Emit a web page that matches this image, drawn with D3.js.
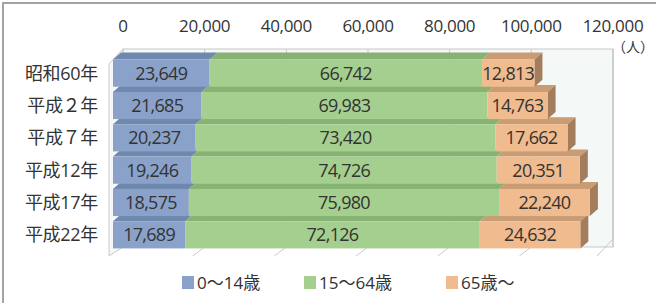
<!DOCTYPE html>
<html>
<head>
<meta charset="utf-8">
<script src="https://cdn.jsdelivr.net/npm/d3@7"></script>
<style>
  body { margin: 0; background: #fff; }
  text { font-family: "Open Sans", "Noto Sans CJK JP", sans-serif; fill: #333; }
</style>
</head>
<body>
<div id="chart"></div>
<script>
const years = ["昭和60年", "平成２年", "平成７年", "平成12年", "平成17年", "平成22年"];
const age0to14 = [23649, 21685, 20237, 19246, 18575, 17689];
const age15to64 = [66742, 69983, 73420, 74726, 75980, 72126];
const age65plus = [12813, 14763, 17662, 20351, 22240, 24632];
const seriesNames = ["0～14歳", "15～64歳", "65歳～"];
const ticks = [0, 20000, 40000, 60000, 80000, 100000, 120000];

const width = 656, height = 303;
const colors = ["#8aa2ca", "#a5cf8f", "#f0bb8e"];
const topColors = ["#6f88ae", "#86b274", "#c99c74"];
const sideColors = ["#5d7396", "#6f9960", "#a47d5c"];
const depth = {dx: 8, dy: -7};

const svg = d3.select("#chart").append("svg")
    .attr("width", width)
    .attr("height", height);

// picture frame
svg.append("rect")
    .attr("x", 3).attr("y", 3)
    .attr("width", width + 10).attr("height", height + 10)
    .attr("fill", "none").attr("stroke", "#a3a3a3").attr("stroke-width", 2);

const x = d3.scaleLinear().domain([0, 120000]).range([113, 603]);
const y = d3.scaleBand().domain(years).range([57, 251]).paddingInner(0.16).paddingOuter(0.08);

const wallTop = 49, wallBottom = 247, floorFront = 256;
const bx = v => x(v) + 10;

// back wall
svg.append("rect")
    .attr("x", bx(0)).attr("y", wallTop)
    .attr("width", bx(120000) - bx(0)).attr("height", wallBottom - wallTop)
    .attr("fill", "#f4f8f6").attr("stroke", "#c8c8c8");

// left wall outline
svg.append("path")
    .attr("d", `M${bx(0)},${wallTop} L${x(0) - 4},${wallTop + 15} L${x(0) - 4},${floorFront} L${bx(0)},${wallBottom}`)
    .attr("fill", "#f6f8f7").attr("stroke", "#c8c8c8");

// right wall edge + floor front edge
svg.append("path")
    .attr("d", `M${bx(120000)},${wallTop} L${bx(120000)},${wallBottom - 8} L${x(120000) - 6},${floorFront}`)
    .attr("fill", "none").attr("stroke", "#c8c8c8");

// gridlines on back wall and floor
svg.append("g").selectAll("line.grid")
    .data(ticks)
    .join("line")
    .attr("class", "grid")
    .attr("x1", d => bx(d)).attr("x2", d => bx(d))
    .attr("y1", wallTop).attr("y2", wallBottom)
    .attr("stroke", "#c8c8c8");

svg.append("g").selectAll("line.floor")
    .data(ticks.slice(1, -1))
    .join("line")
    .attr("class", "floor")
    .attr("x1", d => x(d) - 2).attr("x2", d => bx(d))
    .attr("y1", floorFront).attr("y2", wallBottom)
    .attr("stroke", "#c8c8c8");

// axis tick labels on top
svg.append("g").selectAll("text")
    .data(ticks)
    .join("text")
    .attr("x", d => bx(d))
    .attr("y", 32)
    .attr("text-anchor", "middle")
    .attr("font-size", 17)
    .attr("letter-spacing", -0.3)
    .text(d => d3.format(",")(d));

svg.append("text")
    .attr("x", 654).attr("y", 52)
    .attr("text-anchor", "end")
    .attr("font-size", 14)
    .text("（人）");

// stacked data
const rows = years.map((yr, i) => ({year: yr, values: [age0to14[i], age15to64[i], age65plus[i]]}));
const segs = [];
rows.forEach(r => {
    let acc = 0;
    r.values.forEach((v, k) => {
        segs.push({year: r.year, k, v, x0: acc, x1: acc + v, last: k === r.values.length - 1});
        acc += v;
    });
});

const bars = svg.append("g");

// top faces first
bars.selectAll("path.top")
    .data(segs)
    .join("path")
    .attr("class", "top")
    .attr("d", d => {
        const yt = y(d.year), a = x(d.x0), b = x(d.x1);
        return `M${a},${yt} L${a + depth.dx},${yt + depth.dy} L${b + depth.dx},${yt + depth.dy} L${b},${yt} Z`;
    })
    .attr("fill", d => topColors[d.k]);

// right side faces
bars.selectAll("path.side")
    .data(segs.filter(d => d.last))
    .join("path")
    .attr("class", "side")
    .attr("d", d => {
        const yt = y(d.year), b = x(d.x1), h = y.bandwidth();
        return `M${b},${yt} L${b + depth.dx},${yt + depth.dy} L${b + depth.dx},${yt + h + depth.dy} L${b},${yt + h} Z`;
    })
    .attr("fill", d => sideColors[d.k]);

// front faces
bars.selectAll("rect.front")
    .data(segs)
    .join("rect")
    .attr("class", "front")
    .attr("x", d => x(d.x0))
    .attr("y", d => y(d.year))
    .attr("width", d => x(d.x1) - x(d.x0))
    .attr("height", y.bandwidth())
    .attr("fill", d => colors[d.k]);

// value labels
bars.selectAll("text.val")
    .data(segs)
    .join("text")
    .attr("class", "val")
    .attr("x", d => (x(d.x0) + x(d.x1)) / 2)
    .attr("y", d => y(d.year) + y.bandwidth() / 2 + 6.5)
    .attr("text-anchor", "middle")
    .attr("font-size", 18)
    .attr("letter-spacing", -0.7)
    .text(d => d3.format(",")(d.v));

// category labels
svg.append("g").selectAll("text")
    .data(years)
    .join("text")
    .attr("x", 98)
    .attr("y", d => y(d) + y.bandwidth() / 2 + 6.5)
    .attr("text-anchor", "end")
    .attr("font-size", 18)
    .attr("letter-spacing", -0.3)
    .text(d => d);

// legend
const legendX = [182, 304, 446];
const legend = svg.append("g").selectAll("g")
    .data(seriesNames)
    .join("g")
    .attr("transform", (d, i) => `translate(${legendX[i]},276)`);
legend.append("rect")
    .attr("width", 12).attr("height", 13)
    .attr("fill", (d, i) => colors[i]);
legend.append("text")
    .attr("x", 15).attr("y", 13)
    .attr("font-size", 17)
    .text(d => d);
</script>
</body>
</html>
